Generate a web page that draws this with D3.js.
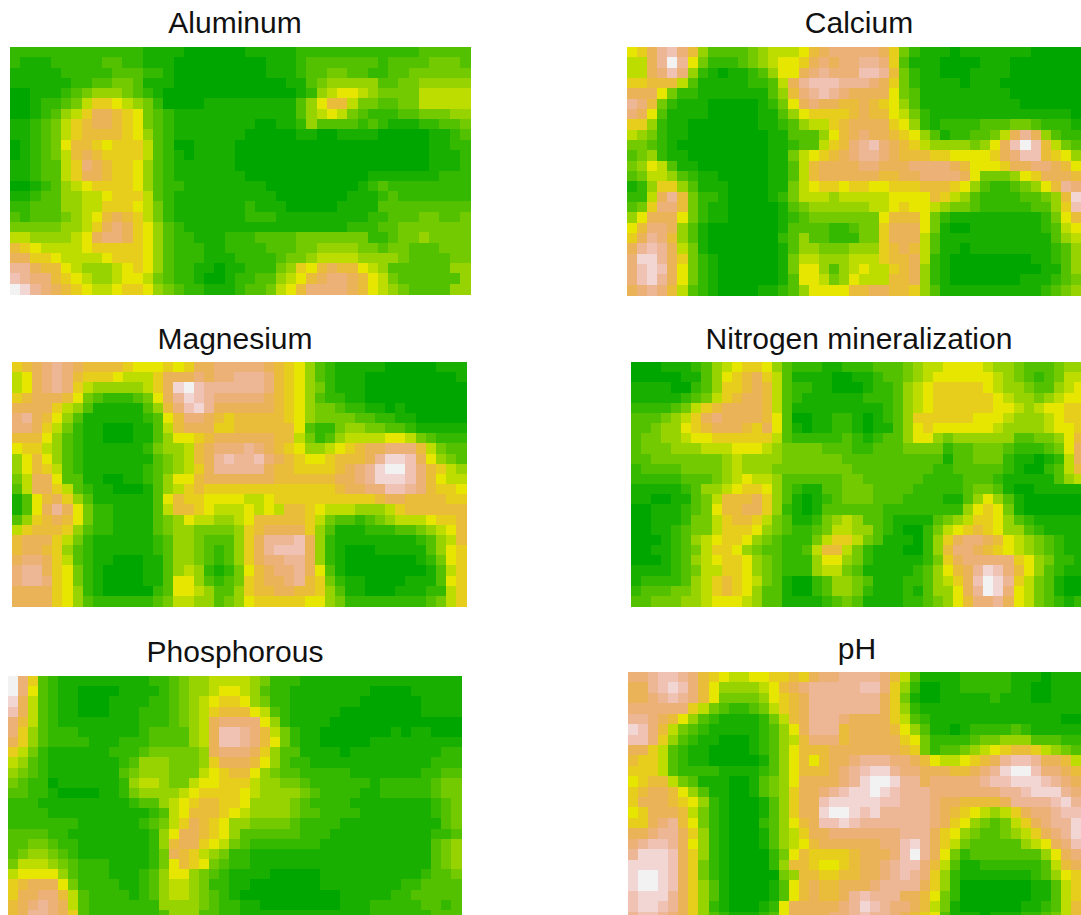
<!DOCTYPE html>
<html>
<head>
<meta charset="utf-8">
<script src="https://cdn.jsdelivr.net/npm/d3@7"></script>
<style>
html,body{margin:0;padding:0;background:#fff;overflow:hidden}
svg{display:block}
text{font-family:"Liberation Sans",Arial,sans-serif;fill:#111}
.panel{filter:blur(0.6px)}
</style>
</head>
<body>
<script>
// Each row: one hex digit per cell = colour level 0..15 of the 16-step terrain palette.
const aluminum = [
"22222 22222 22211 11000 00011 11122 22222 22222 33333",
"21112 22223 32211 10000 00000 11123 33333 32333 34443",
"11111 22222 33322 10000 00000 11123 34433 22334 44444",
"11111 12233 44311 10000 00000 00113 45555 53344 55555",
"00111 23455 54321 00000 00000 00012 56776 54444 66666",
"00122 34688 76542 00001 11111 11135 79964 43344 66666",
"00123 568aa 98743 21111 11111 11135 67643 22233 44455",
"11234 689aa 98743 21111 11110 01125 33332 32111 22334",
"11234 68999 98753 21111 11100 00011 00111 10000 01123",
"01234 79987 88863 20011 11000 00000 00000 00000 01122",
"01234 69a98 88863 21011 11000 00000 00000 00000 01112",
"11233 68ba9 88753 21111 11000 00000 00000 00000 01112",
"11233 68aa9 88753 21111 11100 00000 00000 11111 11222",
"00123 56788 88753 22111 11111 00000 00001 23222 22222",
"11233 55667 88863 21111 11111 10000 00011 12322 22222",
"22333 55668 88764 21111 11121 11000 00111 13333 33333",
"32333 45679 a9864 21111 11122 21111 11111 22333 44334",
"44444 5568a ba875 32111 11111 11111 11122 23344 44444",
"66555 567ab ba875 32211 12223 33344 44444 22344 54444",
"98766 66788 88875 32221 12222 33344 55554 43443 33444",
"aa887 66667 88875 32221 11222 23445 66665 55543 33344",
"cca99 76555 67875 32211 01122 24587 9a997 65333 33355",
"dcbb9 87655 67764 32210 01223 35679 abba9 76433 33335",
"fecba 98766 78875 43221 11233 4679b bbba9 76543 33355"];
const calcium = [
"78acd b9533 33456 6679a bbbbb a8421 11011 11111 00000",
"66acf c7422 23456 778ab abbcc b8311 10000 11100 00000",
"66abd b5210 11235 77abc bbbdd c9421 10001 11100 00000",
"88999 63111 11223 6acdd dcccb a8421 11101 11000 00000",
"aaa74 22111 11113 59bcd cbaaa a7431 11111 11100 00000",
"cb942 11100 00012 47aba a99a9 87531 11111 11110 00000",
"ba731 11100 00011 35788 889a9 97642 11111 11111 11110",
"88521 10000 00011 23566 89aaa a8752 12222 33344 32221",
"65421 10000 00001 13335 79aba a9875 31223 346ac a5322",
"44321 00000 00001 12336 89bcd ba986 55554 57adf d9643",
"34521 10000 00001 14678 9abcc ba999 88777 78abd d9875",
"45763 11000 00001 1369a aaabb aaabb bba97 778aa bba97",
"34665 32110 00001 1369a aaaaa 99aab bbba7 44457 8aaa9",
"12588 53111 00001 14678 87887 78889 99875 32234 579cb",
"226ac 94221 00001 24666 56666 67777 98653 22223 3459e",
"348bb 94211 00000 13455 55556 67877 65443 22222 3358d",
"57aaa 74211 00000 12344 44444 79997 42111 11111 12479",
"79bba 53100 00000 13333 22344 8aaa7 41001 11111 12367",
"8acb9 53100 00000 23533 22244 8aaa6 31111 11111 11356",
"acdca 64100 00000 13554 44555 89a96 31101 11111 11235",
"beeca 84210 00000 14665 55666 899a6 21000 00000 11235",
"bdeda 74210 00000 14775 35676 689a5 21000 00000 01135",
"bdeca 74210 00000 13776 45766 699a5 21000 00001 11234",
"abcb9 63210 00011 23577 7799a a9985 31111 11111 12345"];
const magnesium = [
"89abc ba999 98777 878aa bbbbb a9875 32111 11000 00111",
"67abc b9888 76668 aaaba bbccc b9875 32111 00000 00001",
"67abc b8655 55568 aefdc ccccc b9875 42111 00000 00000",
"89aaa 97432 22347 acedc bbbbb a9875 32211 00000 00000",
"aaaa8 65311 11135 9bdec aaaaa a9875 44322 11010 00000",
"bca97 53111 11123 79bba 98999 99875 44443 32211 00000",
"bba86 42110 00113 69aaa 88999 99973 22455 44332 11111",
"99975 32110 00113 57789 aaaaa a9964 23566 66776 43222",
"78865 32111 11124 5569a bbbcb a9875 56789 aabbb 96433",
"57975 32111 11113 4569a cdccd ba987 78999 aceed a7543",
"57986 32111 11123 4568a ccccc a9988 889ab ceffd b9865",
"46aa7 33110 01123 5779a aaaaa a9999 99aab ceeed b9766",
"36aa8 63211 00013 56898 88888 88888 889aa bbddc b9887",
"1379a 85311 11113 79887 77766 78888 88888 89aa9 99988",
"137ac a7422 11113 69987 66676 76998 76665 55689 99999",
"3589a 97422 11113 45766 55679 99998 64332 34566 67889",
"68999 85322 11113 45544 44589 aaaa8 53111 22233 45679",
"9aaa8 64211 11112 35543 3358a cccda 52111 11111 23569",
"9aa98 53211 11112 35543 2358a cddda 52100 01111 13578",
"abba8 63211 00011 35543 2358a bbcca 52100 00000 12478",
"bcca8 74210 00011 35652 12479 abbca 73100 00000 01368",
"bccb8 74210 00011 37753 23489 aabc9 84211 00001 11378",
"aaaa8 75210 00002 37765 33589 9aa99 85311 00011 12268",
"aaaa8 75322 22223 46655 34578 88887 75422 22222 23468"];
const nitrogen = [
"00011 12356 78875 32221 12223 33456 67777 65543 33455",
"00000 11357 89a86 31111 00112 33456 77777 76543 23466",
"11110 02358 89a96 32211 00012 23567 88888 76554 33567",
"11111 23468 9aa96 32111 11122 23567 88888 87655 45677",
"22223 4689a aaa96 31111 11111 23567 88888 87765 67788",
"33345 68aba aaa97 30011 22101 23588 88887 77655 56788",
"33455 789aa a98a7 31011 22101 13578 77777 76555 56778",
"34455 67788 88886 32222 23212 33577 54555 55533 44579",
"34445 55666 77765 44443 33223 33444 42334 44322 2347a",
"33444 44445 65555 44444 43333 33333 31334 44211 0126a",
"23333 44445 65554 44444 44333 33333 22333 33210 02369",
"22222 33345 67665 33333 34433 33332 22233 32111 11356",
"11111 23556 78875 32113 34443 33322 22234 43100 11111",
"11001 13469 99a85 31012 34443 33222 21135 75310 00000",
"00111 23479 9aa85 21013 33333 22222 22257 87410 00000",
"00111 24468 99864 31124 56533 21111 34568 87532 11111",
"00112 34468 88754 32234 66553 21002 46789 87553 21111",
"00012 35678 87543 22246 88643 11102 58abb a9765 43211",
"00112 34688 75433 22369 96421 11002 59bba 98765 43211",
"00012 35678 87543 22257 75421 11112 48abb bbb87 54221",
"11112 34668 87543 22256 64311 11123 579ac edb97 53211",
"12222 35689 87643 10023 55431 11223 568ad fec86 43100",
"23334 45689 87533 10023 55421 11213 557ac feb76 43100",
"33444 55677 76533 11112 34311 11223 4579b bca76 43212"];
const phosphorous = [
"fb832 11111 11112 23455 66665 42221 11111 11111 11111",
"fb732 11000 01111 23455 67765 32211 11111 10000 11111",
"ea632 11000 11112 23456 78875 42211 11111 00000 01111",
"da632 11000 11122 23456 89997 63211 11100 00000 01111",
"b9632 11111 11122 23456 abbbb 75211 11000 00000 00000",
"b8532 22111 11123 33356 addcb 96421 10000 00010 11000",
"a8532 22211 12223 33356 addcb 97421 10000 01111 11111",
"86421 11111 22234 44445 abbba 85331 11101 11111 11122",
"65321 11111 12355 54445 8aaa9 75322 11111 11111 11222",
"54321 11111 13455 54446 78997 54332 22221 11111 12233",
"43220 11111 12566 54467 78886 55443 22222 21222 22344",
"33221 00001 12455 55678 88876 55554 32222 11222 22344",
"22211 11111 11233 56789 98875 55543 22221 11111 11234",
"22221 11111 11112 36799 98765 55543 32222 11111 11234",
"22222 22111 11123 468a9 87554 44432 22211 11111 11134",
"33332 21111 11112 57aa9 87533 33332 22111 11111 11223",
"33443 22111 11112 59aa8 76432 22222 21111 11111 11345",
"34554 32111 11112 4a986 54221 11111 11111 11111 11345",
"46665 43222 11112 47987 43221 11111 11111 11111 11345",
"67777 53222 11123 57754 32111 10000 01111 11111 12334",
"89aaa 74222 21123 56654 22110 00000 01111 11112 23333",
"8aabb 96322 22123 56654 32100 00000 00011 11122 33333",
"9abcb a6322 22222 55554 32211 00000 00011 12222 23323",
"9accb a8322 22222 35553 32211 11111 11111 12222 22333"];
const pH = [
"bbcdd cb987 66778 898ab bcccc b9631 11122 22211 10111",
"aacde db975 55567 9abcc cccdd b8520 01122 22211 00111",
"aabcd cb974 44457 89acc ccccc a8410 01111 12111 00111",
"bbbbb b8643 22346 89acc ccccc a8521 11111 11111 11111",
"ccba9 75321 11124 69acc cbaaa a8632 11111 11111 11100",
"edb96 43211 11123 57acc c9aaa a9753 11012 22232 11111",
"ddb85 32110 00123 569bb b9aaa aa874 22223 44555 33322",
"aa863 21100 00123 57999 aaaaa aa984 23345 67899 86543",
"98863 21100 00013 57979 aabcc cbba9 76678 9acdd caa96",
"88863 22221 11123 57999 abcde ecbba aa99a bceff dbba9",
"78996 43111 00134 57aaa abcef fecca bbbbb cddee edcba",
"89aa9 75311 00134 58aab cdeef edccc bbbbb bbccd eeecb",
"8aaa9 87521 00013 58aad eeeee ddccc baa99 99acc ccdec",
"78aaa 96421 00013 58aae ffede ccccc ba987 6568a bbcdd",
"88abc 97421 00023 579ad dedcc ccccc ba875 43468 abcce",
"aabcc a8521 00013 568aa bbbbb bbccc a8754 33456 8abce",
"bcddc a7521 00013 5679a aaaaa bbdec a8643 33335 67abd",
"ceeed a8521 00002 47988 889aa abdfc a7423 33333 357ab",
"eeeed a8421 00002 59987 789aa bcddb 96311 22222 2369a",
"effed a8421 00000 45998 899aa bcdcb 85211 11111 23578",
"effed a8531 00001 379a9 9aaab cccca 85200 00000 11368",
"deeec a8531 00001 379a9 9acdc ccaa9 74200 00000 11368",
"deedc a8521 00012 7aaaa abced cbba9 64100 00001 12369",
"cddcb a8532 11123 7aaaa bbcdc cba98 73111 01112 23469"];

const titles = ["Aluminum","Calcium","Magnesium","Nitrogen mineralization","Phosphorous","pH"];
const grids = [aluminum,calcium,magnesium,nitrogen,phosphorous,pH];
const palette = ["#00A600","#19AF00","#35B800","#53C100","#74CA00","#97D300","#BDDC00","#E6E600",
                 "#E7CE1D","#E9BD3A","#EAB358","#ECB176","#EDB694","#EFC2B3","#F1D6D3","#F2F2F2"];

// layout (pixels): panel left, top, width, height, title centre, title baseline
const layout = [
  {x:10, y:47, w:460,h:247,tx:235,ty:33},
  {x:627,y:47, w:454,h:248,tx:859,ty:33},
  {x:12, y:362,w:454,h:244,tx:235,ty:349},
  {x:631,y:362,w:453,h:244,tx:859,ty:349},
  {x:8,  y:676,w:453,h:244,tx:235,ty:662},
  {x:628,y:672,w:453,h:250,tx:857,ty:659}
];

const W=1081,H=915;
const svg=d3.select("body").append("svg").attr("width",W).attr("height",H);
const color=d3.scaleOrdinal().domain(d3.range(palette.length)).range(palette);

grids.forEach((rows,i)=>{
  const L=layout[i];
  const cells=rows.map(r=>r.replace(/\s+/g,"").split("").map(c=>parseInt(c,16)));
  const nCols=d3.max(cells,r=>r.length);
  const x=d3.scaleBand().domain(d3.range(nCols)).range([L.x,L.x+L.w]);
  const y=d3.scaleBand().domain(d3.range(cells.length)).range([L.y,L.y+L.h]);
  const g=svg.append("g").attr("class","panel").attr("shape-rendering","crispEdges");
  cells.forEach((row,r)=>{
    g.selectAll(null).data(row).enter().append("rect")
      .attr("x",(d,c)=>x(c)).attr("y",y(r))
      .attr("width",x.bandwidth()+0.5).attr("height",y.bandwidth()+0.5)
      .attr("fill",d=>color(d));
  });
  svg.append("text").attr("x",L.tx).attr("y",L.ty).attr("text-anchor","middle")
    .attr("font-size",30).text(titles[i]);
});
</script>
</body>
</html>
